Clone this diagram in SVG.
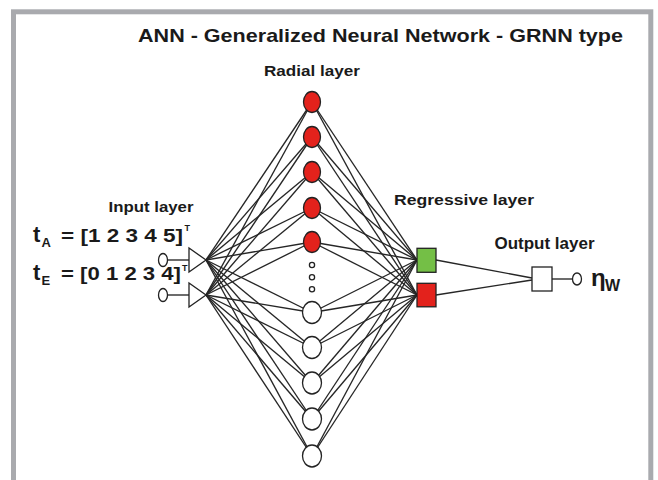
<svg xmlns="http://www.w3.org/2000/svg" width="658" height="480" viewBox="0 0 658 480">
  <style>
    .lbl { font-family: "Liberation Sans", Arial, sans-serif; font-weight: bold; fill: #1a1a1a; }
    .edge { stroke: #262626; stroke-width: 1.35; fill: none; }
    .node { stroke: #222; stroke-width: 1.3; }
    .red { fill: #e3221c; }
    .white { fill: #ffffff; }
    .green { fill: #74bf46; }
  </style>

  <!-- page and frame -->
  <rect x="0" y="0" width="658" height="480" fill="#ffffff"/>
  <rect x="13.5" y="11.8" width="637.3" height="520" fill="#ffffff" stroke="#a9aaae" stroke-width="5"/>

  <!-- headings -->
  <text class="lbl" x="138" y="42" font-size="19" textLength="485" lengthAdjust="spacingAndGlyphs">ANN - Generalized Neural Network - GRNN type</text>
  <text class="lbl" x="264" y="75.5" font-size="15" textLength="96" lengthAdjust="spacingAndGlyphs">Radial layer</text>
  <text class="lbl" x="108.5" y="211.7" font-size="15" textLength="85" lengthAdjust="spacingAndGlyphs">Input layer</text>
  <text class="lbl" x="394" y="205.2" font-size="15.5" textLength="140" lengthAdjust="spacingAndGlyphs">Regressive layer</text>
  <text class="lbl" x="494.5" y="249" font-size="16" textLength="100" lengthAdjust="spacingAndGlyphs">Output layer</text>

  <!-- input vectors -->
  <g id="label-tA">
    <text class="lbl" x="33" y="242" font-size="22">t</text>
    <text class="lbl" x="41.5" y="247" font-size="13">A</text>
    <text class="lbl" x="61" y="242" font-size="18" textLength="122" lengthAdjust="spacingAndGlyphs">= [1 2 3 4 5]</text>
    <text class="lbl" x="184.5" y="231" font-size="9">T</text>
  </g>
  <g id="label-tE">
    <text class="lbl" x="33" y="280" font-size="22">t</text>
    <text class="lbl" x="41.5" y="285" font-size="13">E</text>
    <text class="lbl" x="61" y="280" font-size="18" textLength="120" lengthAdjust="spacingAndGlyphs">= [0 1 2 3 4]</text>
    <text class="lbl" x="182" y="271" font-size="9">T</text>
  </g>

  <!-- connectors -->
  <g id="connectors" class="edge">
    <!-- input stubs -->
    <line x1="167.5" y1="260" x2="189" y2="260"/>
    <line x1="167.5" y1="295" x2="189" y2="295"/>
    <!-- input A to radial layer -->
    <line x1="206" y1="260" x2="312" y2="102"/>
    <line x1="206" y1="260" x2="312" y2="137"/>
    <line x1="206" y1="260" x2="312" y2="172"/>
    <line x1="206" y1="260" x2="312" y2="208"/>
    <line x1="206" y1="260" x2="312" y2="242"/>
    <line x1="206" y1="260" x2="312" y2="312.5"/>
    <line x1="206" y1="260" x2="312" y2="347.5"/>
    <line x1="206" y1="260" x2="312" y2="383"/>
    <line x1="206" y1="260" x2="312" y2="419"/>
    <line x1="206" y1="260" x2="312" y2="456"/>
    <!-- input E to radial layer -->
    <line x1="206" y1="295" x2="312" y2="102"/>
    <line x1="206" y1="295" x2="312" y2="137"/>
    <line x1="206" y1="295" x2="312" y2="172"/>
    <line x1="206" y1="295" x2="312" y2="208"/>
    <line x1="206" y1="295" x2="312" y2="242"/>
    <line x1="206" y1="295" x2="312" y2="312.5"/>
    <line x1="206" y1="295" x2="312" y2="347.5"/>
    <line x1="206" y1="295" x2="312" y2="383"/>
    <line x1="206" y1="295" x2="312" y2="419"/>
    <line x1="206" y1="295" x2="312" y2="456"/>
    <!-- radial layer to regressive summation unit (green) -->
    <line x1="312" y1="102" x2="417" y2="260"/>
    <line x1="312" y1="137" x2="417" y2="260"/>
    <line x1="312" y1="172" x2="417" y2="260"/>
    <line x1="312" y1="208" x2="417" y2="260"/>
    <line x1="312" y1="242" x2="417" y2="260"/>
    <line x1="312" y1="312.5" x2="417" y2="260"/>
    <line x1="312" y1="347.5" x2="417" y2="260"/>
    <line x1="312" y1="383" x2="417" y2="260"/>
    <line x1="312" y1="419" x2="417" y2="260"/>
    <line x1="312" y1="456" x2="417" y2="260"/>
    <!-- radial layer to regressive summation unit (red) -->
    <line x1="312" y1="102" x2="417" y2="295"/>
    <line x1="312" y1="137" x2="417" y2="295"/>
    <line x1="312" y1="172" x2="417" y2="295"/>
    <line x1="312" y1="208" x2="417" y2="295"/>
    <line x1="312" y1="242" x2="417" y2="295"/>
    <line x1="312" y1="312.5" x2="417" y2="295"/>
    <line x1="312" y1="347.5" x2="417" y2="295"/>
    <line x1="312" y1="383" x2="417" y2="295"/>
    <line x1="312" y1="419" x2="417" y2="295"/>
    <line x1="312" y1="456" x2="417" y2="295"/>
    <!-- regressive layer to output -->
    <line x1="436" y1="260" x2="532" y2="278"/>
    <line x1="436" y1="295" x2="532" y2="280"/>
    <line x1="552" y1="279" x2="572.5" y2="279"/>
  </g>

  <!-- input layer -->
  <g id="input-A">
    <ellipse class="node white" cx="163" cy="260" rx="4.5" ry="6.5"/>
    <polygon class="node white" points="189,248 189,272 206,260"/>
  </g>
  <g id="input-E">
    <ellipse class="node white" cx="163" cy="295" rx="4.5" ry="6.5"/>
    <polygon class="node white" points="189,283 189,307 206,295"/>
  </g>

  <!-- radial layer -->
  <g id="radial-1"><ellipse class="node red" cx="312" cy="102" rx="8.5" ry="10.5"/></g>
  <g id="radial-2"><ellipse class="node red" cx="312" cy="137" rx="8.5" ry="10.5"/></g>
  <g id="radial-3"><ellipse class="node red" cx="312" cy="172" rx="8.5" ry="10.5"/></g>
  <g id="radial-4"><ellipse class="node red" cx="312" cy="208" rx="8.5" ry="10.5"/></g>
  <g id="radial-5"><ellipse class="node red" cx="312" cy="242" rx="8.5" ry="10.5"/></g>
  <g id="radial-ellipsis">
    <circle class="node white" cx="312" cy="265" r="2.6"/>
    <circle class="node white" cx="312" cy="277.3" r="2.6"/>
    <circle class="node white" cx="312" cy="289.3" r="2.6"/>
  </g>
  <g id="radial-6"><ellipse class="node white" cx="312" cy="312.5" rx="9.5" ry="11"/></g>
  <g id="radial-7"><ellipse class="node white" cx="312" cy="347.5" rx="9.5" ry="11"/></g>
  <g id="radial-8"><ellipse class="node white" cx="312" cy="383" rx="9.5" ry="11"/></g>
  <g id="radial-9"><ellipse class="node white" cx="312" cy="419" rx="9.5" ry="11"/></g>
  <g id="radial-10"><ellipse class="node white" cx="312" cy="456" rx="9.5" ry="11"/></g>

  <!-- regressive layer -->
  <g id="regressive-1"><rect class="node green" x="417" y="248.3" width="19" height="24"/></g>
  <g id="regressive-2"><rect class="node red" x="417" y="283.3" width="19" height="23.5"/></g>

  <!-- output layer -->
  <g id="output">
    <rect class="node white" x="532" y="267" width="20" height="24"/>
    <ellipse class="node white" cx="577" cy="279" rx="4.5" ry="6"/>
    <text class="lbl" x="591" y="286" font-size="24">η</text>
    <text class="lbl" x="605" y="291" font-size="16">W</text>
  </g>
</svg>
